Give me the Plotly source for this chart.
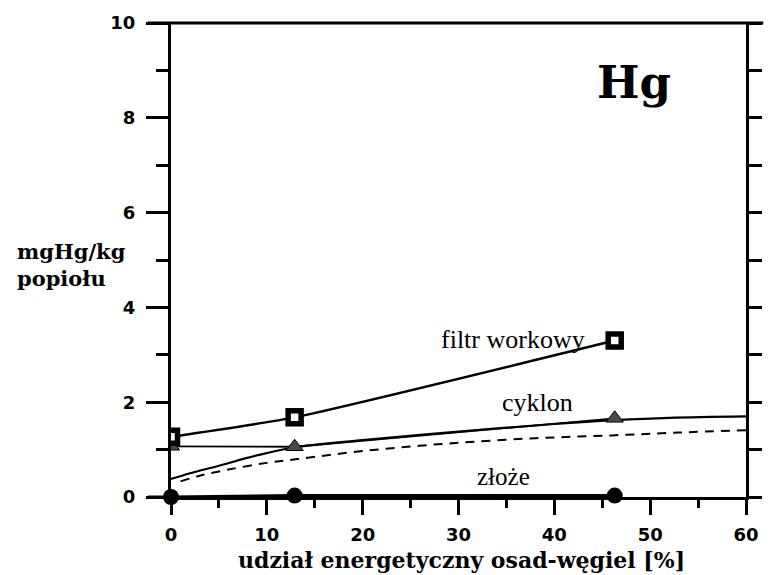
import plotly.graph_objects as go

# data
x_pts = [0, 12.9, 46.3]
filtr = [1.27, 1.68, 3.30]
cyklon = [1.07, 1.06, 1.66]
zloze = [0.0, 0.03, 0.03]

fit_x = [0, 2, 5, 9, 13, 20, 30, 40, 46.3, 52, 60]
fit_cyklon = [0.38, 0.50, 0.66, 0.88, 1.05, 1.20, 1.38, 1.54, 1.62, 1.67, 1.70]

dash_x = [1, 3, 6, 10, 13.2, 20, 29, 38, 46, 53, 60]
dash_y = [0.33, 0.45, 0.58, 0.72, 0.80, 0.97, 1.13, 1.24, 1.30, 1.36, 1.41]

x_ticks = [0, 10, 20, 30, 40, 50, 60]
y_ticks = [0, 2, 4, 6, 8, 10]

serif = "Liberation Serif"
slab = "DejaVu Serif"
sans = "DejaVu Sans"

fig = go.Figure()

fig.add_trace(go.Scatter(x=fit_x, y=fit_cyklon, mode="lines", line=dict(color="black", width=2.2, shape="spline"), showlegend=False))
fig.add_trace(go.Scatter(x=dash_x, y=dash_y, mode="lines", line=dict(color="black", width=2, dash="9px,7px", shape="spline"), showlegend=False))
fig.add_trace(go.Scatter(x=x_pts, y=cyklon, mode="lines+markers", line=dict(color="black", width=1.8),
                         marker=dict(symbol="triangle-up", size=15, color="#4a4a4a", line=dict(color="black", width=1)), showlegend=False))
fig.add_trace(go.Scatter(x=x_pts, y=filtr, mode="lines+markers", line=dict(color="black", width=2.5, shape="spline", smoothing=0.5),
                         marker=dict(symbol="square", size=13, color="white", line=dict(color="black", width=5.5)), showlegend=False))
fig.add_trace(go.Scatter(x=x_pts, y=zloze, mode="lines+markers", line=dict(color="black", width=3),
                         marker=dict(symbol="circle", size=16, color="black"), showlegend=False, cliponaxis=False))

# right axis ticks via overlay axis
fig.add_trace(go.Scatter(x=[None], y=[None], yaxis="y2", showlegend=False))

tickfont = dict(family=sans, size=18, color="black", weight="bold")

fig.update_layout(
    width=771, height=575,
    margin=dict(l=171, r=13, t=22, b=78),
    paper_bgcolor="white", plot_bgcolor="white",
    xaxis=dict(range=[0, 60], tickvals=x_ticks, ticks="outside", ticklen=15, tickwidth=2.5, tickcolor="black",
               minor=dict(dtick=5, tick0=0, ticks="outside", ticklen=8, tickwidth=2.5, tickcolor="black", showgrid=False),
               showline=True, linecolor="black", linewidth=3, showgrid=False, zeroline=False,
               tickfont=tickfont, ticklabelstandoff=4),
    yaxis=dict(range=[0, 10], tickvals=y_ticks, ticks="outside", ticklen=22, tickwidth=2.5, tickcolor="black",
               minor=dict(dtick=1, tick0=0, ticks="outside", ticklen=12, tickwidth=2.5, tickcolor="black", showgrid=False),
               showline=True, linecolor="black", linewidth=3, showgrid=False, zeroline=False,
               tickfont=tickfont, ticklabelstandoff=7),
    yaxis2=dict(range=[0, 10], overlaying="y", side="right", dtick=1, ticks="outside", ticklen=13, tickwidth=2.5,
                tickcolor="black", showticklabels=False, showline=True, linecolor="black", linewidth=2.5,
                showgrid=False, zeroline=False),
    shapes=[
        dict(type="line", xref="paper", yref="paper", x0=-0.04, x1=1.03, y0=1, y1=1, line=dict(color="black", width=3)),
        dict(type="line", xref="paper", yref="paper", x0=-0.04, x1=0, y0=0, y1=0, line=dict(color="black", width=3)),
    ],
    annotations=[
        dict(text="<b>Hg</b>", x=48.3, y=8.74, xref="x", yref="y", showarrow=False,
             font=dict(family=slab, size=45, color="black")),
        dict(text="filtr workowy", x=35.7, y=3.33, xref="x", yref="y", showarrow=False,
             font=dict(family=serif, size=26, color="black")),
        dict(text="cyklon", x=38.2, y=2.0, xref="x", yref="y", showarrow=False,
             font=dict(family=serif, size=26, color="black")),
        dict(text="złoże", x=34.7, y=0.44, xref="x", yref="y", showarrow=False,
             font=dict(family=serif, size=25, color="black")),
        dict(text="<b>mgHg/kg</b><br><b>popiołu</b>", x=(12 - 171) / 587, y=(497 - 265) / 475,
             xref="paper", yref="paper", showarrow=False, align="left", xanchor="left", yanchor="middle",
             font=dict(family=slab, size=21, color="black")),
        dict(text="<b>udział energetyczny osad-węgiel [%]</b>", x=(468 - 171) / 587, y=(497 - 560) / 475,
             xref="paper", yref="paper", showarrow=False, xanchor="center", yanchor="middle",
             font=dict(family=slab, size=22, color="black")),
    ],
)

fig.write_html("out.html", config={"displayModeBar": False}, post_script="document.body.style.margin='0px';")
